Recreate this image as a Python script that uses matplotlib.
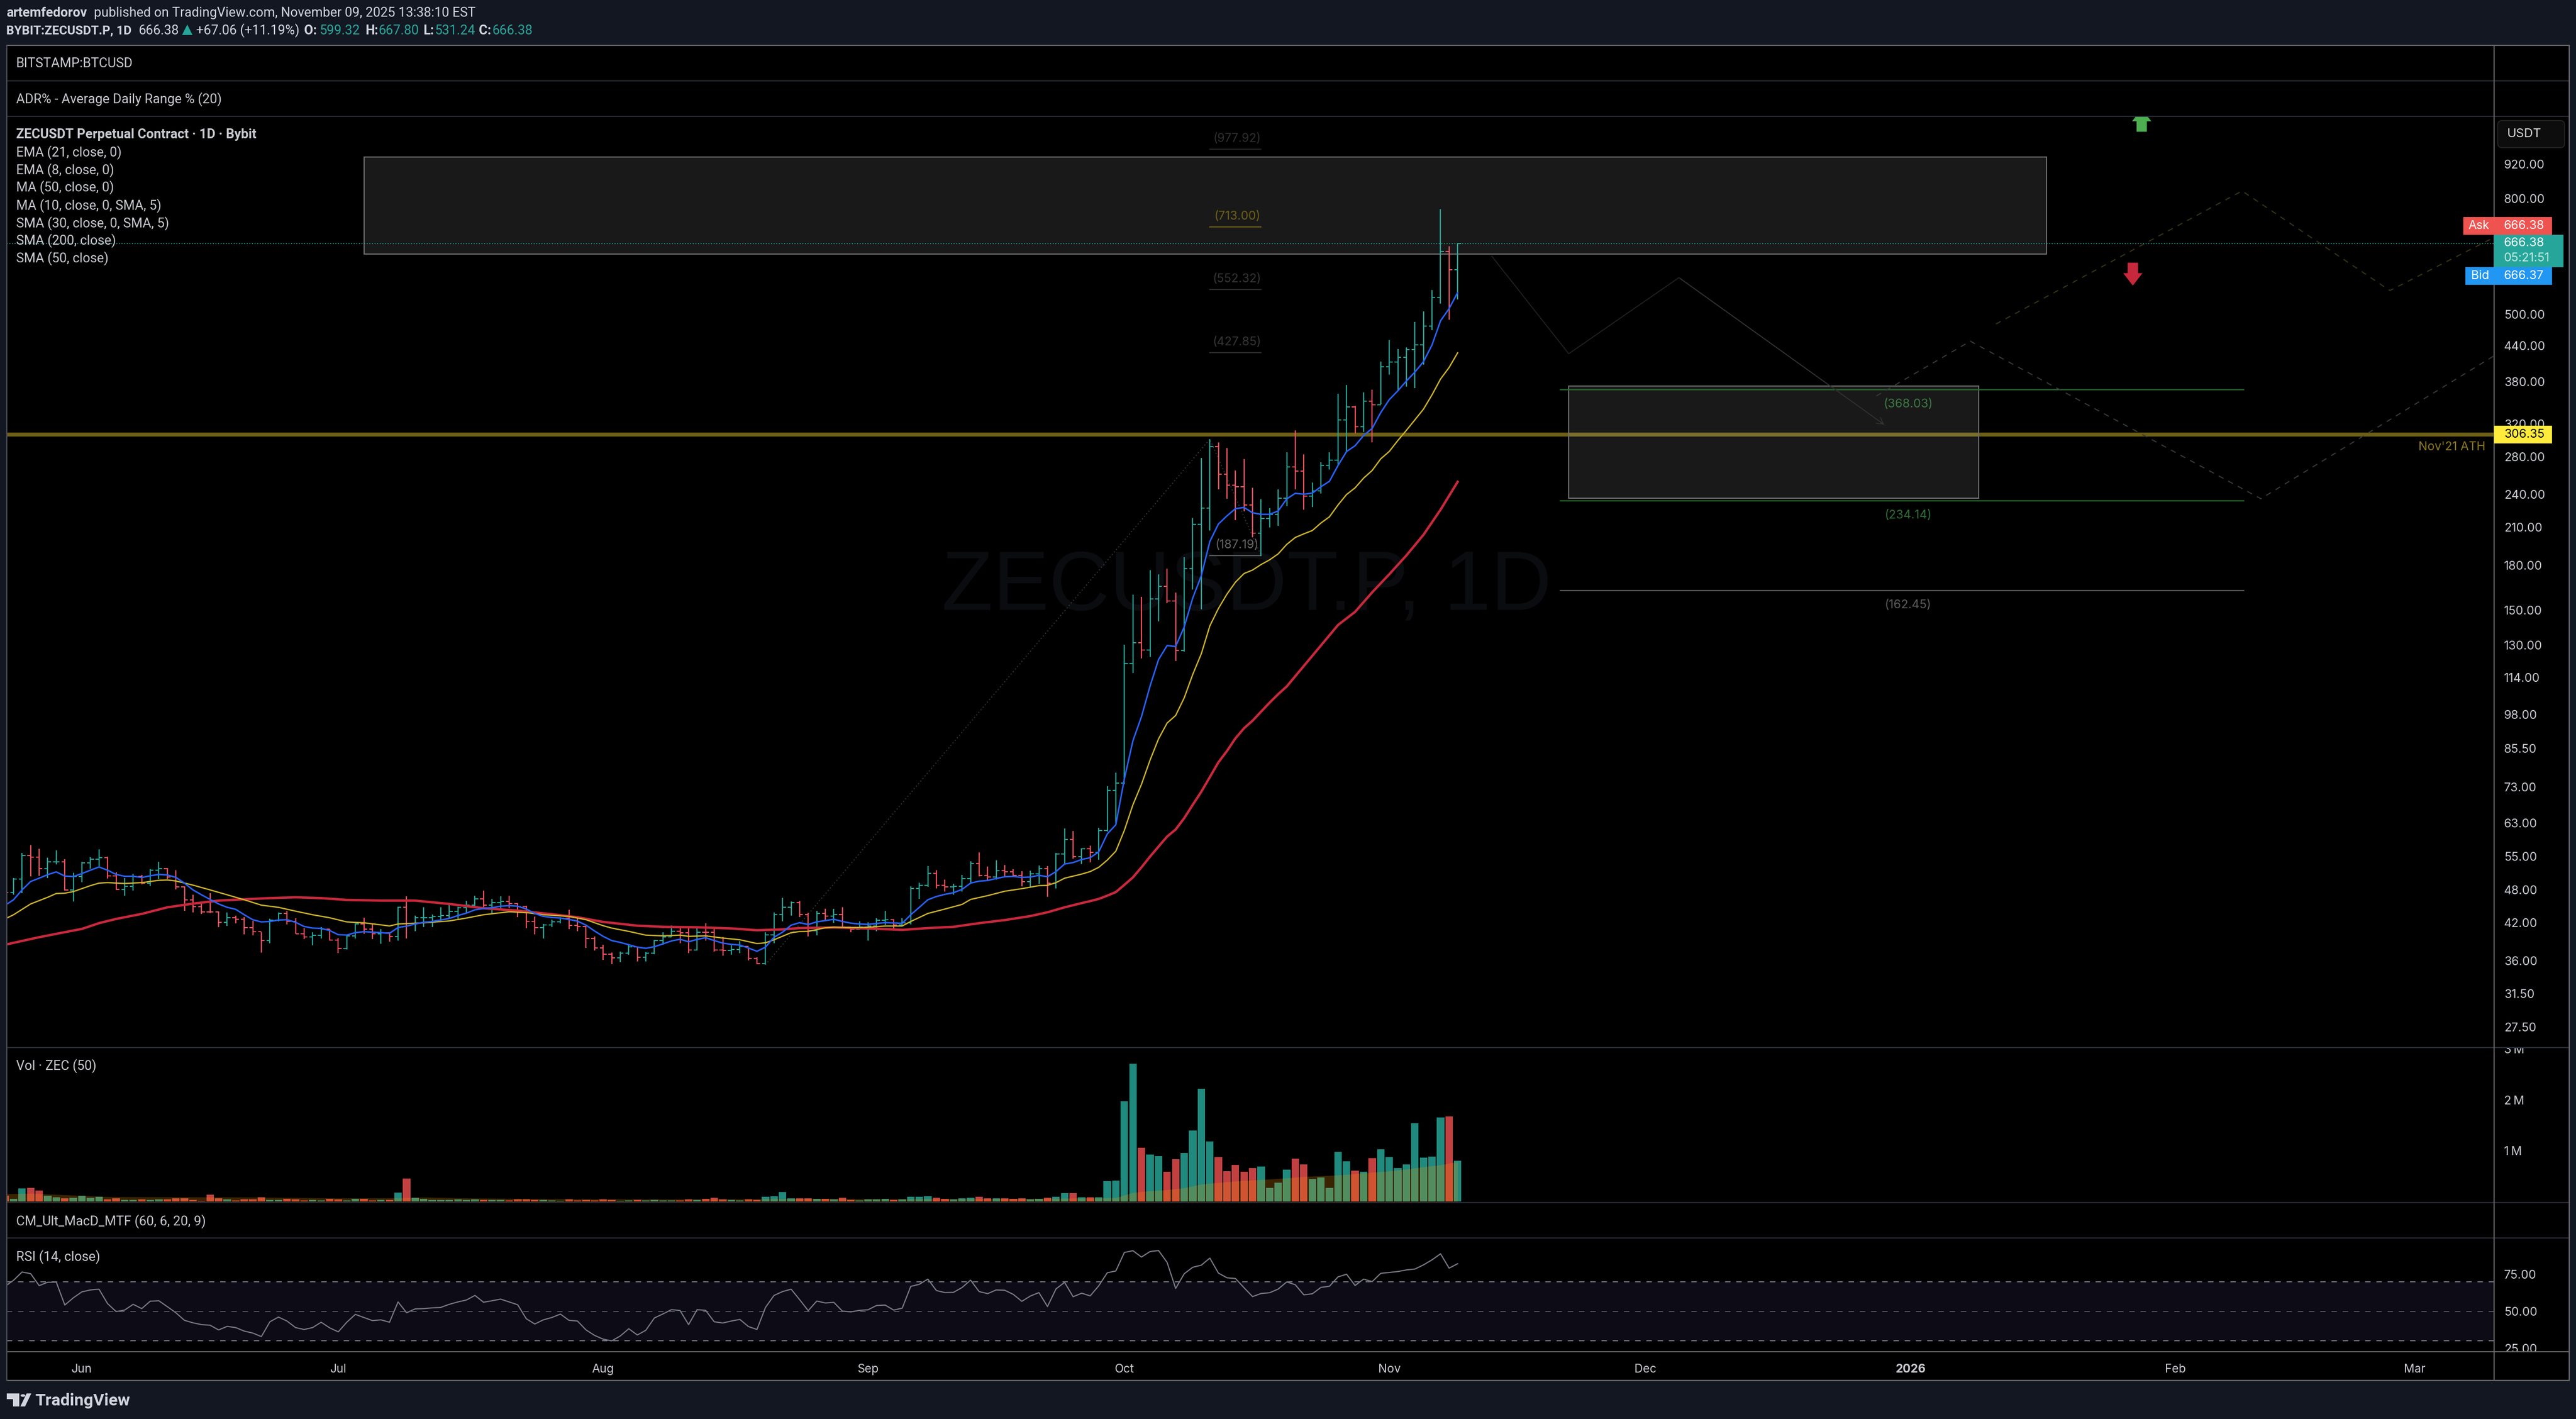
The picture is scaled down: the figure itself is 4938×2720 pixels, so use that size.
#!/usr/bin/env python3
import pandas as pd
import matplotlib
matplotlib.use("Agg")
import matplotlib.pyplot as plt
from matplotlib.lines import Line2D
from matplotlib.patches import Rectangle, Polygon, FancyBboxPatch, Circle
from matplotlib.path import Path
from matplotlib.ticker import FixedLocator, FixedFormatter, NullLocator
from matplotlib.transforms import Bbox, TransformedBbox

# one bar per day, day 0 is 2025-06-01, first bar is day -9
START = pd.Timestamp("2025-06-01")
bar_days = list(range(-9, 162))

bar_high = [
    48.7, 50.36, 55.75, 57.59, 56.71, 54.79, 56.44, 54.42, 51.46, 53.81,
    54.91, 56.67, 54.98, 51.57, 50.43, 51.21, 51.03, 52.28, 53.81, 52.46,
    52.03, 48.69, 47.07, 45.82, 47.38, 43.99, 43.84, 43.26, 42.96, 42.38,
    40.43, 42.67, 43.84, 44.07, 42.82, 41.11, 40.43, 41.24, 40.97, 39.47,
    39.88, 41.88, 42.90, 41.80, 40.97, 40.43, 44.82, 46.75, 43.26, 44.73,
    43.40, 44.73, 45.44, 44.88, 45.88, 46.91, 47.94, 46.29, 46.82, 46.91,
    45.51, 45.04, 43.11, 41.80, 42.53, 42.96, 44.28, 42.82, 41.65, 39.75,
    38.42, 37.20, 37.40, 38.29, 38.17, 37.27, 39.15, 40.43, 41.51, 41.38,
    41.32, 41.11, 41.94, 41.24, 39.61, 38.29, 38.99, 38.04, 36.51, 40.43,
    43.84, 46.50, 45.82, 45.94, 43.75, 44.13, 44.48, 44.48, 44.73, 41.16,
    42.23, 42.09, 42.82, 44.13, 42.58, 42.82, 48.76, 49.43, 52.89, 52.03,
    50.03, 49.26, 51.03, 53.91, 55.94, 52.82, 54.14, 53.17, 52.28, 51.82,
    51.92, 53.00, 52.89, 55.75, 61.70, 60.96, 56.89, 57.47, 61.78, 73.24,
    77.4, 130.2, 159.6, 158.3, 176.5, 173.5, 177.6, 161.0, 186.0, 218.2,
    278.4, 300.7, 296.9, 289.8, 264.6, 277.5, 246.9, 235.4, 227.2, 245.2,
    284.9, 311.6, 282.4, 252.0, 273.5, 284.9, 361.8, 375.0, 344.0, 363.9,
    367.4, 412.0, 450.0, 433.5, 436.8, 484.8, 505.5, 551.2, 766.3, 659.0,
    667.80,
]
bar_low = [
    47.0, 47.07, 47.38, 50.76, 50.80, 50.43, 53.24, 47.86, 45.82, 49.53,
    52.39, 52.64, 50.30, 48.02, 46.91, 47.86, 49.09, 48.86, 50.19, 50.19,
    48.09, 44.13, 43.84, 43.55, 43.69, 41.32, 41.43, 41.94, 40.07, 39.88,
    37.24, 38.62, 42.23, 41.71, 40.12, 39.34, 38.29, 39.42, 39.07, 37.09,
    37.66, 39.42, 40.15, 39.34, 38.55, 38.93, 39.07, 39.42, 40.62, 41.24,
    41.24, 42.38, 42.82, 42.67, 43.84, 44.88, 44.73, 43.63, 44.42, 44.57,
    42.96, 41.11, 40.07, 39.42, 41.24, 41.94, 40.89, 40.56, 37.91, 37.53,
    36.09, 35.47, 35.78, 36.89, 35.90, 35.85, 36.94, 38.37, 39.61, 38.62,
    37.09, 37.53, 39.07, 37.40, 36.76, 36.89, 37.15, 36.02, 35.47, 35.42,
    38.67, 42.23, 43.26, 42.96, 39.75, 39.88, 42.29, 41.99, 41.05, 40.43,
    40.83, 39.07, 40.62, 41.65, 41.05, 41.51, 41.71, 46.29, 48.62, 48.29,
    47.69, 47.13, 47.69, 49.36, 50.70, 49.86, 50.09, 50.53, 50.60, 48.76,
    48.52, 49.19, 46.66, 48.29, 53.35, 54.53, 53.35, 53.71, 54.29, 60.9,
    62.7, 73.8, 116.1, 123.2, 124.0, 143.3, 154.2, 121.9, 126.6, 163.0,
    150.4, 207.4, 245.2, 235.7, 216.2, 224.3, 201.8, 186.9, 209.8, 211.2,
    229.2, 245.2, 225.7, 228.0, 241.0, 265.6, 270.9, 285.9, 307.8, 309.8,
    296.9, 346.5, 391.0, 366.0, 372.3, 370.0, 407.2, 468.0, 522.0, 488.2,
    531.24,
]
bar_close = [
    47.53, 50.19, 55.17, 54.87, 52.39, 53.78, 53.81, 48.02, 50.76, 53.60,
    54.42, 54.75, 50.86, 48.12, 48.69, 50.76, 49.36, 52.03, 52.39, 50.63,
    48.62, 46.07, 44.88, 43.93, 43.90, 42.06, 42.93, 42.58, 41.21, 40.48,
    39.07, 42.47, 43.63, 42.29, 40.15, 39.61, 39.88, 40.97, 39.15, 37.86,
    39.80, 41.80, 40.97, 40.15, 40.29, 39.75, 44.73, 41.88, 42.87, 42.93,
    43.11, 43.26, 43.99, 44.63, 45.13, 46.29, 45.13, 45.57, 45.82, 45.44,
    44.88, 42.23, 41.16, 41.65, 42.17, 42.82, 41.57, 41.38, 39.42, 37.91,
    36.94, 36.43, 37.15, 38.11, 36.51, 37.09, 39.07, 39.69, 40.56, 40.35,
    37.61, 40.43, 40.40, 37.61, 37.53, 37.71, 38.17, 36.33, 35.59, 39.96,
    43.46, 44.76, 45.63, 43.46, 40.70, 43.63, 43.17, 43.40, 41.24, 40.97,
    41.24, 41.43, 42.47, 42.53, 41.65, 41.99, 48.29, 48.96, 51.32, 48.96,
    48.62, 48.69, 50.30, 53.46, 50.96, 50.63, 51.92, 51.74, 50.96, 49.63,
    51.21, 52.39, 49.29, 55.56, 58.97, 54.98, 56.82, 55.94, 61.18, 72.0,
    74.1, 120.6, 131.3, 127.5, 156.8, 165.2, 155.7, 127.2, 177.5, 212.8,
    226.9, 291.6, 260.7, 249.2, 247.7, 230.0, 205.1, 217.8, 221.4, 236.2,
    268.6, 263.8, 238.3, 243.4, 270.3, 275.9, 324.9, 342.7, 316.0, 351.0,
    345.5, 403.7, 411.5, 419.2, 433.0, 441.4, 476.6, 535.8, 645.4, 599.32,
    666.38,
]
first_open = 47.9

volume_m = [
    .113, .052, .26, .27, .217, .113, .085, .061, .071, .113,
    .071, .094, .042, .061, .033, .033, .042, .033, .042, .042,
    .061, .061, .033, .014, .132, .061, .042, .019, .042, .042,
    .085, .033, .033, .052, .042, .019, .033, .019, .052, .042,
    .019, .052, .052, .019, .033, .033, .175, .453, .071, .052,
    .033, .033, .033, .042, .033, .042, .033, .033, .033, .019,
    .042, .042, .033, .033, .019, .009, .042, .019, .033, .019,
    .042, .033, .009, .019, .033, .019, .033, .019, .019, .019,
    .042, .033, .052, .071, .042, .033, .019, .042, .033, .093,
    .10, .187, .06, .06, .06, .053, .053, .04, .073, .032,
    .02, .04, .04, .053, .032, .04, .093, .093, .10, .073,
    .053, .04, .06, .073, .093, .06, .06, .06, .053, .06,
    .04, .053, .07, .09, .163, .163, .078, .078, .078, .40,
    .41, 1.97, 2.71, 1.06, .92, .89, .58, .83, .95, 1.40,
    2.22, 1.18, .87, .60, .72, .59, .66, .69, .27, .37,
    .63, .84, .73, .44, .47, .27, .97, .79, .61, .58,
    .85, 1.03, .87, .66, .73, 1.54, .86, .88, 1.65, 1.67,
    .80,
]
vol_ma_days = [-9, -6, -2, 3, 10, 20, 30, 37, 40, 45, 55, 65, 75, 85, 95, 105, 113, 119, 121, 122,
               123, 125, 127, 129, 131, 133, 135, 137, 139, 141, 143, 146, 148, 150, 153, 155, 157, 159, 161]
vol_ma_vals = [.15, .16, .13, .094, .09, .085, .066, .07, .085, .066, .052, .047, .047, .057, .05, .053, .06, .07, .075, .126,
               .176, .21, .23, .267, .34, .37, .40, .42, .44, .46, .49, .51, .53, .56, .60, .635, .68, .72, .78]

rsi_vals = [
    66.8, 70.9, 76.5, 75.4, 67.3, 69.6, 69.7, 54.2, 59.1, 63.1,
    64.4, 64.9, 55.2, 49.8, 50.8, 54.7, 51.8, 56.8, 57.1, 53.1,
    49.0, 43.9, 42.2, 41.0, 40.6, 37.4, 39.8, 39.0, 36.6, 35.3,
    32.9, 42.9, 46.1, 43.4, 39.0, 37.7, 39.0, 42.6, 38.8, 36.1,
    42.6, 47.9, 45.8, 43.7, 44.2, 42.6, 56.3, 49.0, 51.6, 51.8,
    52.3, 52.6, 54.7, 56.3, 57.6, 60.7, 56.1, 57.1, 58.2, 56.3,
    54.4, 45.0, 41.4, 44.2, 45.8, 48.1, 43.9, 43.4, 37.4, 33.7,
    31.2, 30.0, 33.3, 38.2, 34.0, 37.2, 45.5, 48.2, 51.1, 50.5,
    41.0, 51.1, 50.6, 42.9, 42.1, 43.4, 44.5, 39.7, 37.7, 52.6,
    60.7, 63.3, 64.9, 57.8, 50.4, 56.9, 55.6, 56.0, 50.1, 49.6,
    50.6, 51.0, 53.9, 54.2, 50.8, 52.1, 66.8, 68.2, 71.7, 64.0,
    62.6, 62.8, 66.0, 71.0, 63.3, 61.9, 64.4, 64.2, 61.4, 56.7,
    60.3, 62.6, 53.2, 65.1, 69.5, 59.8, 62.2, 60.4, 67.2, 76.0,
    77.2, 89.7, 90.9, 86.6, 90.3, 91.0, 83.0, 65.4, 75.3, 79.7,
    81.1, 85.9, 75.8, 72.6, 72.1, 65.9, 59.9, 62.0, 62.5, 65.0,
    69.8, 67.9, 61.1, 61.8, 66.1, 66.9, 73.2, 75.0, 67.4, 71.7,
    70.0, 75.6, 76.2, 76.8, 77.9, 78.5, 81.3, 84.7, 88.8, 79.1,
    82.1,
]

ema8_vals = [
    45.10, 46.13, 48.02, 49.69, 50.36, 51.10, 51.67, 50.80, 50.70, 51.32,
    52.03, 52.71, 52.03, 51.14, 50.76, 50.76, 50.50, 50.86, 51.14, 51.03,
    50.53, 49.36, 48.02, 47.07, 46.19, 45.35, 44.73, 44.37, 43.40, 42.53,
    42.15, 42.23, 42.47, 42.53, 42.09, 41.38, 41.11, 41.05, 40.70, 40.02,
    39.96, 40.35, 40.51, 40.43, 40.35, 40.24, 41.21, 41.43, 41.80, 42.09,
    42.23, 42.47, 42.76, 43.26, 43.69, 44.28, 44.51, 44.66, 44.94, 45.04,
    44.94, 44.42, 43.63, 43.11, 42.93, 42.82, 42.58, 42.29, 41.60, 40.62,
    39.75, 39.07, 38.78, 38.42, 38.04, 37.86, 38.11, 38.55, 39.01, 39.28,
    38.88, 39.26, 39.53, 39.07, 38.67, 38.47, 38.37, 37.91, 37.40, 38.04,
    39.61, 40.43, 41.60, 42.03, 41.71, 42.17, 42.38, 42.61, 42.23, 41.94,
    41.80, 41.74, 41.88, 42.03, 41.97, 41.91, 43.40, 44.73, 46.13, 46.75,
    47.16, 47.47, 48.12, 49.36, 49.76, 49.89, 50.30, 50.66, 50.73, 50.53,
    50.60, 50.96, 50.66, 51.74, 53.35, 53.67, 54.34, 54.75, 56.05, 60.30,
    62.6, 75.5, 88.1, 97.2, 110.0, 122.6, 129.8, 129.3, 140.0, 157.5,
    172.4, 198.2, 212.8, 220.0, 226.6, 227.7, 222.8, 221.4, 221.4, 224.5,
    235.7, 241.2, 240.3, 241.4, 247.7, 253.3, 270.1, 285.9, 292.7, 305.2,
    314.1, 335.0, 353.1, 366.0, 380.8, 395.0, 412.0, 441.0, 486.7, 511.4,
    546.0,
]

ema21_days = [-9, -8, -6, -4, -3, -2, -1, 1, 2, 3, 5, 7, 9, 10, 11, 13, 15, 17, 19, 21,
              23, 25, 27, 29, 31, 33, 35, 36, 37, 40, 43, 45, 47, 50, 52, 54, 57, 59, 61, 62,
              64, 66, 68, 70, 71, 73, 75, 77, 79, 80, 81, 83, 84, 85, 87, 88, 90, 92, 94, 96,
              97, 99, 101, 103, 104, 106, 108, 110, 112, 113, 114, 115, 117, 118, 119, 120, 121, 122, 123, 124,
              125, 126, 127, 128, 129, 130, 131, 132, 133, 134, 135, 136, 137, 138, 139, 140, 141, 142, 143, 144,
              145, 146, 147, 148, 149, 150, 151, 152, 153, 154, 155, 156, 157, 158, 159, 160, 161]
ema21_vals = [42.67, 43.40, 45.35, 46.60, 47.32, 47.38, 47.69, 48.86, 49.36, 49.46, 49.29, 49.46, 49.93, 50.0, 49.79, 48.96, 48.02, 47.07, 46.13, 45.13,
              44.73, 44.04, 43.40, 42.87, 42.15, 42.0, 41.65, 41.46, 41.80, 42.0, 42.32, 42.82, 43.40, 43.93, 43.78, 43.40, 43.11, 42.53, 41.51, 41.11,
              40.56, 39.94, 39.83, 39.94, 39.75, 39.83, 39.47, 39.20, 38.60, 38.72, 39.20, 40.35, 40.53, 40.56, 41.16, 41.27, 41.19, 41.24, 41.46, 41.46,
              42.23, 43.63, 44.42, 45.26, 46.19, 46.91, 47.76, 48.26, 48.86, 48.92, 49.46, 50.36, 51.21, 51.74, 52.64, 54.22, 56.21, 61.2, 67.9, 73.8,
              81.4, 88.8, 94.7, 97.65, 104.9, 115.4, 125.5, 140.6, 150.9, 160.0, 168.0, 174.0, 176.5, 180.5, 184.0, 188.5, 195.9, 201.5, 204.5, 207.3,
              213.7, 219.2, 230.0, 240.0, 246.6, 256.6, 264.7, 277.5, 286.0, 299.0, 311.6, 325.3, 339.7, 360.0, 384.0, 402.4, 427.2]

sma50_days = [-9, -5, -2, 0, 2, 4, 7, 10, 13, 16, 19, 22, 25, 28, 31, 35, 39, 43, 47, 51,
              55, 58, 61, 65, 68, 72, 76, 79, 82, 84, 88, 92, 96, 99, 102, 105, 108, 111, 113, 115,
              117, 118, 119, 120, 121, 122, 123, 124, 125, 126, 127, 128, 129, 130, 131, 132, 133, 134, 135, 136,
              137, 138, 139, 140, 141, 147, 149, 151, 153, 155, 157, 159, 161]
sma50_vals = [38.42, 39.61, 40.43, 40.97, 41.94, 42.67, 43.55, 44.73, 45.41, 45.97, 46.22, 46.44, 46.60, 46.44, 46.10, 45.97, 45.97, 45.35, 44.57, 44.13,
              43.49, 42.96, 42.15, 41.51, 41.32, 41.24, 41.05, 40.75, 40.89, 41.11, 41.21, 41.05, 40.81, 41.11, 41.32, 41.94, 42.47, 43.17, 43.84, 44.73,
              45.51, 45.88, 46.29, 46.91, 47.6, 49.02, 50.53, 52.64, 54.98, 57.28, 59.66, 61.4, 64.3, 67.9, 71.6, 76.0, 80.7, 84.5, 89.0, 92.7,
              95.6, 99.2, 102.9, 106.5, 109.9, 141.1, 148.9, 161.2, 173.5, 187.3, 203.7, 225.6, 252.7]

# chart drawings
upper_zone_days = [33.0, 229.9]
upper_zone_prices = [638.5, 948.0]
lower_zone_days = [174.0, 222.0]
lower_zone_prices = [236.4, 373.5]
level_days = [173.0, 253.0]
level_prices = [368.03, 234.14, 162.45]
level_colors = ["#27662c", "#27662c", "#5a5a5a"]
level_text_colors = ["#3b7a42", "#2f7036", "#5a5a5a"]
fib_days = [132.0, 138.0]
fib_prices = [977.92, 713.00, 552.32, 427.85, 187.19]
fib_colors = ["#242424", "#6e5f17", "#2c2c2c", "#2c2c2c", "#5f5f5f"]
fib_text_colors = ["#2e2e2e", "#6e5f17", "#353535", "#353535", "#666666"]
swing_days = [80, 132, 138]
swing_prices = [35.42, 300.7, 187.19]
path_solid_days = [165.0, 174.0, 186.9, 211.05]
path_solid_prices = [633.0, 425.6, 580.2, 317.9]
path_gray_days = [210.0, 221.0, 255.0, 282.3]
path_gray_prices = [358.4, 447.9, 235.9, 422.1]
path_olive_days = [224.0, 252.8, 270.1, 282.3]
path_olive_prices = [480.4, 825.6, 550.4, 683.5]
ath_price = 306.35
last_price = 666.38

price_ticks = [920, 800, 500, 440, 380, 320, 280, 240, 210, 180, 150, 130, 114, 98, 85.5, 73, 63, 55, 48, 42, 36, 31.5, 27.5]
vol_ticks = [1, 2, 3]
rsi_ticks = [25, 50, 75]
rsi_levels = [30, 50, 70]
month_dates = ["2025-06-01", "2025-07-01", "2025-08-01", "2025-09-01", "2025-10-01", "2025-11-01",
               "2025-12-01", "2026-01-01", "2026-02-01", "2026-03-01"]
month_labels = ["Jun", "Jul", "Aug", "Sep", "Oct", "Nov", "Dec", "2026", "Feb", "Mar"]
legend_labels = ["EMA (21, close, 0)", "EMA (8, close, 0)", "MA (50, close, 0)", "MA (10, close, 0, SMA, 5)",
                 "SMA (30, close, 0, SMA, 5)", "SMA (200, close)", "SMA (50, close)"]

# page layout, in pixels of the 4938x2720 picture
W, H = 4938, 2720
DPI = 100
PT = 72 / DPI
BG = "#131722"
SEP = "#2a2e39"
EDGE = "#6a6a6a"
TXT = "#c8cad0"
UP = "#26a69a"
DOWN = "#f7525f"
UI_FONT = "Roboto"
AXIS_FONT = "Inter"
LEFT, SCALE_X, RIGHT, TOP, BOTTOM = 13, 4781, 4925, 87, 2646

plt.rcParams["lines.scale_dashes"] = False
plt.rcParams["font.family"] = [UI_FONT, "DejaVu Sans"]

fig = plt.figure(figsize=(W / DPI, H / DPI), dpi=DPI, facecolor=BG)


def pane(y0, y1):
    ax = fig.add_axes([LEFT / W, 1 - y1 / H, (SCALE_X - LEFT) / W, (y1 - y0) / H])
    ax.set_facecolor("black")
    ax.set_xlim((LEFT - 157) / 16.38, (SCALE_X - 157) / 16.38)
    for s in ax.spines.values():
        s.set_visible(False)
    ax.set_xticks([])
    ax.yaxis.tick_right()
    ax.tick_params(axis="y", length=0, pad=19 * PT, labelsize=23 * PT, labelcolor=TXT)
    return ax


def fig_text(x, y, s, size=25.2, color=TXT, weight="normal", family=None, ha="left", zorder=12):
    return fig.text(x / W, 1 - y / H, s, fontsize=size * PT, color=color, fontweight=weight,
                    family=family or UI_FONT, ha=ha, va="center", zorder=zorder)


def fig_line(x0, y0, x1, y1, color=SEP, lw=2.0, zorder=8):
    fig.add_artist(Line2D([x0 / W, x1 / W], [1 - y0 / H, 1 - y1 / H], color=color, lw=lw * PT,
                          transform=fig.transFigure, zorder=zorder))


def fig_box(x0, y0, x1, y1, color, zorder=9):
    fig.add_artist(Rectangle((x0 / W, 1 - y1 / H), (x1 - x0) / W, (y1 - y0) / H, facecolor=color,
                             edgecolor="none", transform=fig.transFigure, zorder=zorder))


def fig_poly(points, color, zorder=12):
    fig.add_artist(Polygon([(x / W, 1 - y / H) for x, y in points], closed=True, facecolor=color,
                           edgecolor="none", transform=fig.transFigure, zorder=zorder))


def set_scale(ax, ticks, labels, y0, y1):
    ax.yaxis.set_major_locator(FixedLocator(ticks))
    ax.yaxis.set_major_formatter(FixedFormatter(labels))
    ax.yaxis.set_minor_locator(NullLocator())
    clip = TransformedBbox(Bbox([[SCALE_X / W, 1 - y1 / H], [RIGHT / W, 1 - y0 / H]]), fig.transFigure)
    for tick, lab in zip(ax.yaxis.get_major_ticks(), labels):
        tick.label2.set_family(AXIS_FONT)
        tick.label2.set_clip_on(True)
        tick.label2.set_clip_box(clip)
        tick.label2.set_zorder(3)


fig_box(LEFT, TOP, RIGHT, BOTTOM, "black", zorder=-5)

ax_btc = pane(87, 155)
ax_adr = pane(155, 223)
ax = pane(223, 2008)
ax_vol = pane(2008, 2305)
ax_cm = pane(2305, 2373)
ax_rsi = pane(2373, 2591)
ax_time = pane(2591, 2646)
for blank in (ax_btc, ax_adr, ax_cm):
    blank.set_yticks([])

# main price pane
ax.set_yscale("log")
ax.set_ylim(25.28, 1118.4)
set_scale(ax, price_ticks, [f"{p:.2f}" for p in price_ticks], 223, 2008)

bar_open = [first_open] + bar_close[:-1]
bar_colors = [UP if c >= o else DOWN for o, c in zip(bar_open, bar_close)]

ax.text(136.3, 164, "ZECUSDT.P, 1D", color="#0b0c0f", fontsize=161 * PT, family="Liberation Sans",
        ha="center", va="center", zorder=0.5)
ax.axhline(ath_price, color="#6e5f17", lw=7.5 * PT, zorder=1)

for days, prices in ((upper_zone_days, upper_zone_prices), (lower_zone_days, lower_zone_prices)):
    ax.add_patch(Rectangle((days[0], prices[0]), days[1] - days[0], prices[1] - prices[0],
                           facecolor=(1, 1, 1, 0.1), edgecolor="#6e6e6e", lw=2.2 * PT, zorder=2))

for price, col, tcol in zip(level_prices, level_colors, level_text_colors):
    ax.plot(level_days, [price, price], color=col, lw=2.4 * PT, zorder=2.5)
    ax.annotate(f"({price:.2f})", xy=(213.7, price), xytext=(0, -28), textcoords="offset pixels",
                color=tcol, fontsize=23 * PT, family=AXIS_FONT, ha="center", va="center", zorder=2.5)
for price, col, tcol in zip(fib_prices, fib_colors, fib_text_colors):
    ax.plot(fib_days, [price, price], color=col, lw=2.2 * PT, zorder=2.5)
    ax.annotate(f"({price:.2f})", xy=(135.2, price), xytext=(0, 20), textcoords="offset pixels",
                color=tcol, fontsize=23 * PT, family=AXIS_FONT, ha="center", va="center", zorder=2.5)

ax.plot(swing_days, swing_prices, color="#3a3a3a", lw=2 * PT, ls=(0, (1.4, 3.2)), zorder=2.6)
ax.plot(path_solid_days, path_solid_prices, color="#222222", lw=1.8 * PT, zorder=2.6)
ax.annotate("", xy=(path_solid_days[-1], path_solid_prices[-1]),
            xytext=(path_solid_days[-2], path_solid_prices[-2]),
            arrowprops=dict(arrowstyle="->,head_length=0.9,head_width=0.5", color="#333333", lw=1.6 * PT), zorder=2.6)
ax.plot(path_gray_days, path_gray_prices, color="#3a3a3a", lw=2 * PT, ls=(0, (7.5, 7.5)), zorder=2.6)
ax.plot(path_olive_days, path_olive_prices, color="#3a3514", lw=2 * PT, ls=(0, (7.5, 7.5)), zorder=2.6)

ax.annotate("Nov'21 ATH", xy=(281.3, ath_price), xytext=(0, -24), textcoords="offset pixels",
            color="#8c7a1e", fontsize=23 * PT, family=AXIS_FONT, ha="right", va="center", zorder=3)

ax.vlines(bar_days, bar_low, bar_high, colors=bar_colors, lw=2.3 * PT, zorder=3)
ax.hlines(bar_open, [d - 0.39 for d in bar_days], bar_days, colors=bar_colors, lw=2 * PT, zorder=3)
ax.hlines(bar_close, bar_days, [d + 0.39 for d in bar_days], colors=bar_colors, lw=2 * PT, zorder=3)

ax.plot(sma50_days, sma50_vals, color="#c8283c", lw=4.6 * PT, zorder=4, solid_joinstyle="round")
ax.plot(ema21_days, ema21_vals, color="#cdb42c", lw=2.5 * PT, zorder=4.1)
ax.plot(bar_days, ema8_vals, color="#2962ff", lw=2.8 * PT, zorder=4.2)
ax.axhline(last_price, color=UP, lw=1.7 * PT, ls=(0, (1.3, 2.3)), zorder=4.5)

down_arrow = Path([(-.45, 1), (.45, 1), (.45, .09), (.84, .09), (0, -1), (-.84, .09), (-.45, .09), (-.45, 1)], closed=True)
up_arrow = Path([(-.45, -1), (.45, -1), (.45, -.09), (.84, -.09), (0, 1), (-.84, -.09), (-.45, -.09), (-.45, -1)], closed=True)
ax.plot([240.0], [589.0], marker=down_arrow, ms=44 * PT, color="#c8283c", mew=0, ls="none", zorder=5)
ax.plot([241.0], [1102.0], marker=up_arrow, ms=44 * PT, color="#4caf50", mew=0, ls="none", zorder=5)

# volume pane
ax_vol.set_ylim(-0.02, 3.026)
set_scale(ax_vol, vol_ticks, ["1\u2009M", "2\u2009M", "3\u2009M"], 2008, 2305)
vol_colors = ["#1f8a7d" if c == UP else "#c24040" for c in bar_colors]
ax_vol.bar(bar_days, volume_m, width=0.87, color=vol_colors, zorder=2)
ax_vol.fill_between(vol_ma_days, 0, vol_ma_vals, color="#ff9800", alpha=0.23, lw=0, zorder=3)

# rsi pane
ax_rsi.set_ylim(50 - (2591 - 2513.5) / 2.84, 50 + (2513.5 - 2373) / 2.84)
set_scale(ax_rsi, rsi_ticks, [f"{v:.2f}" for v in rsi_ticks], 2373, 2591)
ax_rsi.axhspan(rsi_levels[0], rsi_levels[2], color="#0d0b16", lw=0, zorder=1)
for level, col in zip(rsi_levels, ["#787b86", "#55565e", "#787b86"]):
    ax_rsi.axhline(level, color=col, lw=1.9 * PT, ls=(0, (7.5, 8)), zorder=2)
ax_rsi.plot(bar_days, rsi_vals, color="#787b86", lw=2.2 * PT, zorder=3)

# time axis
month_x = [(pd.Timestamp(m) - START).days for m in month_dates]
ax_time.set_yticks([])
ax_time.set_xticks(month_x)
ax_time.set_xticklabels(month_labels, family=AXIS_FONT)
ax_time.xaxis.tick_top()
ax_time.tick_params(axis="x", length=0, direction="in", pad=-45 * PT, labelsize=22.5 * PT, labelcolor=TXT)
ax_time.get_xticklabels()[7].set_fontweight("bold")

# frame and separators
for y in (155, 223, 2008, 2305, 2373):
    fig_line(LEFT, y, RIGHT, y, SEP, 2.2)
fig_line(LEFT, 2591, RIGHT, 2591, EDGE, 2.2)
fig_line(LEFT, TOP, RIGHT, TOP, EDGE, 2.2)
fig_line(LEFT, BOTTOM, RIGHT, BOTTOM, EDGE, 2.2)
fig_line(LEFT, TOP, LEFT, BOTTOM, "#4a4e58", 2.2)
fig_line(RIGHT, TOP, RIGHT, BOTTOM, EDGE, 2.2)
fig_line(SCALE_X, TOP, SCALE_X, BOTTOM, EDGE, 2.2)

# price tags on the scale
fig.add_artist(FancyBboxPatch((4788 / W, 1 - 283 / H), 128 / W, 52 / H,
                              boxstyle=f"round,pad=0,rounding_size={8 / W}", mutation_aspect=W / H,
                              facecolor="#0d0d0d", edgecolor="#2a2a2a", lw=1.5 * PT,
                              transform=fig.transFigure, zorder=9))
fig_text(4806, 257, "USDT", 24, "#d8d8d8", family=AXIS_FONT)
fig_box(4722, 416, 4892, 450, "#ef5350")
fig_box(4781, 450, 4914, 512, "#26a69a")
fig_box(4726, 512, 4892, 546, "#2196f3")
fig_box(4781, 816, 4892, 850, "#ffeb3b")
fig_text(4731, 433, "Ask", 23, "white", family=AXIS_FONT)
fig_text(4800, 433, "666.38", 23, "white", family=AXIS_FONT)
fig_text(4800, 466, "666.38", 23, "white", family=AXIS_FONT)
fig_text(4800, 495, "05:21:51", 23, "#c6e9e5", family=AXIS_FONT)
fig_text(4737, 529, "Bid", 23, "white", family=AXIS_FONT)
fig_text(4800, 529, "666.37", 23, "white", family=AXIS_FONT)
fig_text(4800, 833, "306.35", 23, "black", family=AXIS_FONT)

# pane captions
fig_text(31, 122, "BITSTAMP:BTCUSD")
fig_text(31, 191, "ADR% - Average Daily Range % (20)")
fig_text(31, 258, "ZECUSDT Perpetual Contract \u00b7 1D \u00b7 Bybit", weight="bold")
for y, label in zip([293, 327, 360, 395, 429, 462, 496], legend_labels):
    fig_text(31, y, label)
fig_text(31, 2044, "Vol \u00b7 ZEC (50)")
fig_text(31, 2342, "CM_Ult_MacD_MTF (60, 6, 20, 9)")
fig_text(31, 2410, "RSI (14, close)")

# header
HEAD = "#d1d4dc"
fig_text(12, 25, "artemfedorov", weight="bold", color=HEAD)
fig_text(180, 25, "published on TradingView.com, November 09, 2025 13:38:10 EST", color=HEAD)
fig_text(12, 59, "BYBIT:ZECUSDT.P, 1D", 23.8, weight="bold", color=HEAD)
fig_text(265, 59, "666.38", color=HEAD)
fig_poly([(359, 47), (369, 67), (349, 67)], "#26a69a")
fig_text(376, 59, "+67.06 (+11.19%)", color=HEAD)
for x_key, x_val, key, val in [(583, 612, "O:", "599.32"), (700, 725, "H:", "667.80"),
                               (811, 833, "L:", "531.24"), (918, 943, "C:", "666.38")]:
    fig_text(x_key, 59, key, weight="bold", color=HEAD)
    fig_text(x_val, 59, val, color="#26a69a")

# footer logo
LOGO = "#d1d4dc"
fig_poly([(13, 2671), (37, 2671), (37, 2696), (25, 2696), (25, 2682), (13, 2682)], LOGO)
fig_poly([(51, 2671), (60, 2671), (48, 2696), (39, 2696)], LOGO)
fig.add_artist(Circle((44 / W, 1 - 2675 / H), 4.5 / W, facecolor=LOGO, edgecolor="none",
                      transform=fig.transFigure, zorder=12))
fig_text(67, 2685, "TradingView", 32, LOGO, weight="bold")

fig.savefig("out.png", dpi=DPI, facecolor=BG)
